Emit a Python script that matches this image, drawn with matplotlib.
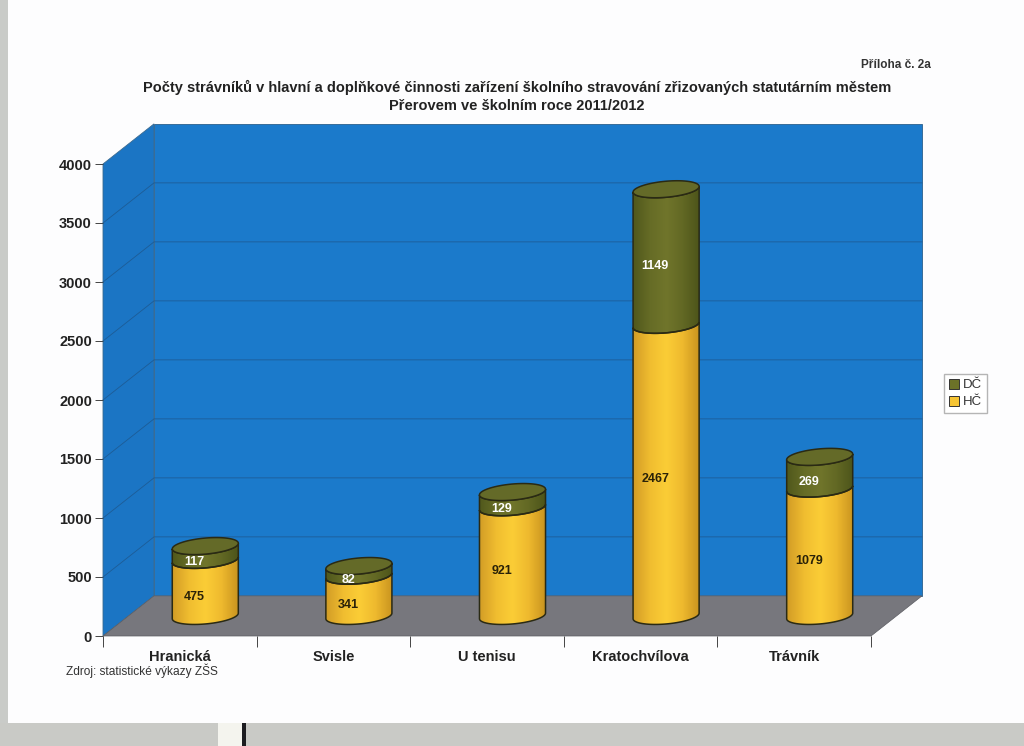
import numpy as np
import matplotlib
matplotlib.use('Agg')
import matplotlib.pyplot as plt
from matplotlib.colors import LinearSegmentedColormap
from matplotlib.patches import Polygon, Rectangle

plt.rcParams['font.family'] = ['Liberation Sans', 'DejaVu Sans']

categories = ['Hranická', 'Svisle', 'U tenisu', 'Kratochvílova', 'Trávník']
hc = [475, 341, 921, 2467, 1079]
dc = [117, 82, 129, 1149, 269]
y_ticks = [0, 500, 1000, 1500, 2000, 2500, 3000, 3500, 4000]

W, H = 1024, 746
DEPTH_X = 51 / 153.6   # wall offset in category units
DEPTH_Y = 340          # wall offset in value units
RX = 0.215             # cylinder radius
RY = 68
TILT = 24

fig = plt.figure(figsize=(W / 100, H / 100), dpi=100, facecolor='#fdfdfe')
ax = fig.add_axes([103 / W, 1 - 636 / H, 768 / W, 472 / H])
ax.set_xlim(0, 5)
ax.set_ylim(0, 4000)
ax.patch.set_alpha(0)

# scan edges of the page
fig.add_artist(Rectangle((0, 0), 8 / W, 1, transform=fig.transFigure, color='#c9cbc8', lw=0))
fig.add_artist(Rectangle((0, 0), 1, 23 / H, transform=fig.transFigure, color='#c9cac6', lw=0))
fig.add_artist(Rectangle((218 / W, 0), 24 / W, 23 / H, transform=fig.transFigure, color='#f4f4ee', lw=0))
fig.add_artist(Rectangle((242 / W, 0), 4 / W, 23 / H, transform=fig.transFigure, color='#1c1c20', lw=0))

# walls and floor
wall = '#1b7acb'
ax.add_patch(Polygon([(DEPTH_X, DEPTH_Y), (5 + DEPTH_X, DEPTH_Y), (5 + DEPTH_X, 4000 + DEPTH_Y), (DEPTH_X, 4000 + DEPTH_Y)],
                     fc=wall, ec='#2b5f8c', lw=0.6, clip_on=False, zorder=1))
ax.add_patch(Polygon([(0, 0), (DEPTH_X, DEPTH_Y), (DEPTH_X, 4000 + DEPTH_Y), (0, 4000)],
                     fc='#1b75c4', ec='#3a6a90', lw=0.6, clip_on=False, zorder=1))
ax.add_patch(Polygon([(0, 0), (5, 0), (5 + DEPTH_X, DEPTH_Y), (DEPTH_X, DEPTH_Y)],
                     fc='#77777d', ec='#5c5d63', lw=0.5, clip_on=False, zorder=1))
for v in y_ticks[1:-1]:
    ax.plot([0, DEPTH_X, 5 + DEPTH_X], [v, v + DEPTH_Y, v + DEPTH_Y], color='#1d5c96', lw=0.6,
            clip_on=False, zorder=2)

yellow = LinearSegmentedColormap.from_list('y', ['#d29c26', '#f0bd30', '#fbcd36', '#eeb92e', '#c8931f'])
olive = LinearSegmentedColormap.from_list('o', ['#50581c', '#666c26', '#70752b', '#626824', '#4c541a'])
t_front = np.linspace(np.pi, 2 * np.pi, 60)
t_all = np.linspace(0, 2 * np.pi, 120)


def ell(cx, cy, t):
    return cx + RX * np.cos(t), cy + RY * np.sin(t) + TILT * np.cos(t)


def body(cx, y0, y1, cmap):
    xb, yb = ell(cx, y0, t_front)
    xt, yt = ell(cx, y1, t_front[::-1])
    pts = np.column_stack([np.r_[xb, xt], np.r_[yb, yt]])
    poly = Polygon(pts, fc='none', ec='#2a2a14', lw=1.1, clip_on=False, zorder=5)
    ax.add_patch(poly)
    im = ax.imshow(np.linspace(0, 1, 64)[None, :], cmap=cmap, aspect='auto', zorder=4,
                   extent=[cx - RX, cx + RX, y0 - 200, y1 + 200], clip_on=True)
    im.set_clip_path(Polygon(pts, transform=ax.transData))


for i, (h, d) in enumerate(zip(hc, dc)):
    cx = i + 0.5 + DEPTH_X / 2
    base = DEPTH_Y / 2
    body(cx, base, base + h, yellow)
    body(cx, base + h, base + h + d, olive)
    xe, ye = ell(cx, base + h + d, t_all)
    ax.fill(xe, ye, fc='#646a28', ec='#2a2a14', lw=1.1, clip_on=False, zorder=6)
    ax.text(cx - 0.07, base + h / 2 - 76, str(h), color='#2a2208', fontsize=9, fontweight='bold',
            ha='center', va='center', zorder=7)
    ax.text(cx - 0.07, base + h + d / 2 - 76, str(d), color='white', fontsize=9, fontweight='bold',
            ha='center', va='center', zorder=7, clip_on=False)

ax.set_xlim(0, 5)
ax.set_ylim(0, 4000)

for s in ['top', 'right', 'bottom', 'left']:
    ax.spines[s].set_visible(False)
ax.set_xticks(np.arange(6))
ax.set_xticklabels([])
ax.set_xticks(np.arange(5) + 0.5, labels=categories, minor=True)
ax.tick_params(axis='x', which='major', length=8, width=0.7, color='#444444')
ax.tick_params(axis='x', which='minor', length=0, pad=10, labelsize=10.5, labelcolor='#222222')
ax.set_yticks(y_ticks)
ax.tick_params(axis='y', length=6, width=0.7, color='#444444', labelsize=10.5, labelcolor='#222222', pad=2)
for lab in ax.get_xticklabels(minor=True) + ax.get_yticklabels():
    lab.set_fontweight('bold')

fig.text(517 / W, 1 - 96.5 / H, 'Počty strávníků v hlavní a doplňkové činnosti zařízení školního stravování zřizovaných statutárním městem\nPřerovem ve školním roce 2011/2012',
         ha='center', va='center', fontsize=10.5, fontweight='bold', color='#222222', linespacing=1.3)
fig.text(931 / W, 1 - 65 / H, 'Příloha č. 2a', ha='right', va='center', fontsize=8.5, fontweight='bold', color='#333333')
fig.text(66 / W, 1 - 671 / H, 'Zdroj: statistické výkazy ZŠS', ha='left', va='center', fontsize=8.6, color='#333333')

h_dc = Rectangle((0, 0), 1, 1, fc='#6c7228', ec='#333333', lw=0.7)
h_hc = Rectangle((0, 0), 1, 1, fc='#f5c433', ec='#333333', lw=0.7)
fig.legend([h_dc, h_hc], ['DČ', 'HČ'], loc='center', bbox_to_anchor=(965.5 / W, 1 - 393.5 / H), fontsize=9.5,
           fancybox=False, edgecolor='#b5b5b5', framealpha=1, handlelength=0.8, handleheight=0.8,
           handletextpad=0.3, borderpad=0.35, labelspacing=0.35, borderaxespad=0, labelcolor='#333333')

fig.savefig('out.png', dpi=100, facecolor=fig.get_facecolor())
